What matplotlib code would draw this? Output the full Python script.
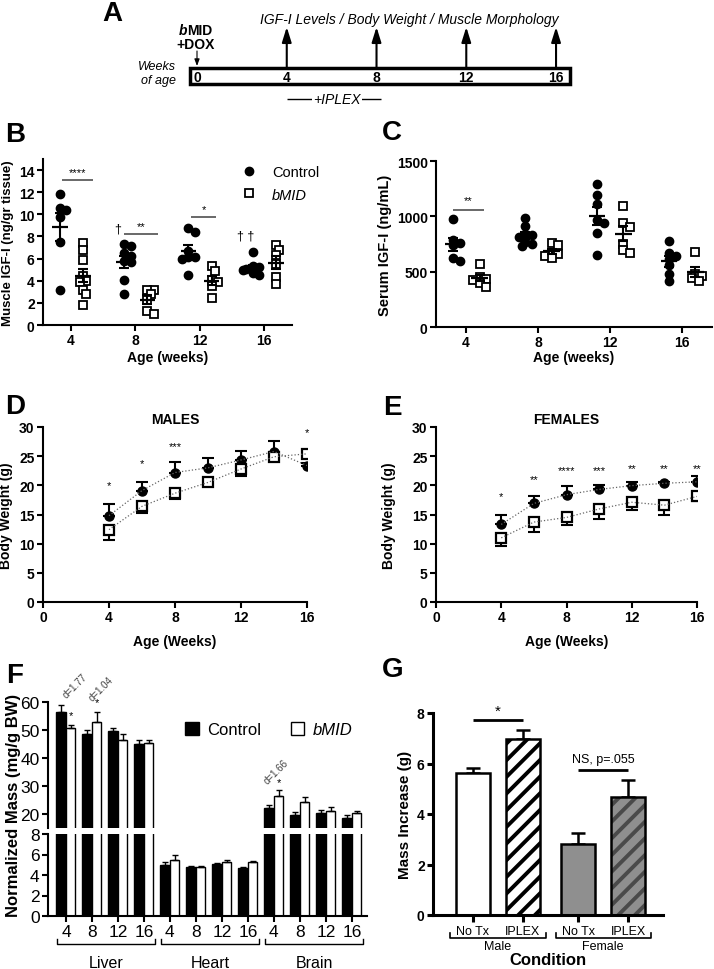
import numpy as np
import matplotlib
matplotlib.use("Agg")
import matplotlib.pyplot as plt
import matplotlib.transforms as mtransforms
from matplotlib.patches import Rectangle, Patch
from matplotlib.lines import Line2D

W, H = 714, 970

# ---------------- data ----------------
# A: timeline
timeline_weeks = [0, 4, 8, 12, 16]

# B: muscle IGF-I (ng/gr tissue), individual animals
ages = [4, 8, 12, 16]
b_ctrl = [[11.8, 10.6, 10.4, 9.8, 7.5, 3.2],
          [7.3, 7.1, 6.5, 6.2, 5.8, 5.7, 4.1, 2.8],
          [8.75, 8.4, 6.7, 6.1, 6.1, 6.0, 4.5],
          [6.6, 5.3, 5.2, 5.1, 5.0, 4.7, 4.5]]
b_bmid = [[7.4, 6.8, 5.9, 4.4, 4.0, 3.9, 3.2, 2.8, 1.8],
          [3.2, 3.2, 2.8, 2.3, 1.3, 1.0],
          [5.3, 4.9, 4.1, 3.9, 3.5, 2.4],
          [7.2, 6.8, 6.3, 5.5, 4.3, 3.7]]

# C: serum IGF-I (ng/mL)
c_ctrl = [[980, 790, 760, 740, 620, 595],
          [985, 910, 840, 830, 810, 770, 750, 730],
          [1290, 1190, 1110, 970, 940, 845, 655],
          [775, 670, 640, 610, 560, 475, 415]]
c_bmid = [[565, 450, 435, 425, 400, 365],
          [762, 741, 672, 660, 642, 621],
          [1095, 940, 905, 750, 700, 665],
          [680, 480, 465, 440, 415]]

# D / E: body weight (g)
weeks = [4, 6, 8, 10, 12, 14, 16]
d_ctrl = [14.8, 19.1, 22.2, 23.0, 24.35, 25.8, 23.4]
d_ctrl_sem = [1.95, 1.4, 1.85, 1.6, 1.6, 1.8, 0.5]
d_bmid = [12.4, 16.4, 18.65, 20.5, 22.8, 24.9, 25.4]
d_bmid_sem = [1.8, 1.15, 1.0, 0.4, 1.15, 0.5, 0.5]
d_sig = ['*', '*', '***', '', '', '', '*']
d_sig_y = [20.1, 23.8, 26.8, 0, 0, 0, 29.2]

e_ctrl = [13.3, 16.9, 18.4, 19.3, 19.95, 20.35, 20.6]
e_ctrl_sem = [1.6, 1.2, 1.55, 0.8, 0.65, 0.3, 0.95]
e_bmid = [11.0, 13.7, 14.5, 15.95, 17.1, 16.6, 18.1]
e_bmid_sem = [1.35, 1.75, 1.25, 1.65, 1.4, 1.7, 0.75]
e_sig = ['*', '**', '****', '***', '**', '**', '**']
e_sig_y = [18.2, 21.1, 22.6, 22.6, 23.0, 23.0, 23.0]

# F: normalized organ mass (mg/g BW)
organs = ['Liver', 'Heart', 'Brain']
f_ages = ['4', '8', '12', '16']
f_ctrl = [56.4, 48.6, 49.6, 45.0, 4.97, 4.74, 5.07, 4.67, 22.0, 19.6, 20.4, 18.4]
f_ctrl_sem = [2.6, 1.4, 1.1, 1.3, 0.33, 0.11, 0.08, 0.13, 1.3, 1.2, 0.9, 1.3]
f_bmid = [50.8, 53.0, 46.4, 45.3, 5.5, 4.78, 5.23, 5.23, 26.6, 24.2, 21.0, 20.2]
f_bmid_sem = [1.0, 3.3, 2.2, 1.0, 0.45, 0.07, 0.22, 0.12, 1.8, 1.8, 1.6, 0.8]

# G: mass increase (g)
g_labels = ['No Tx', 'IPLEX', 'No Tx', 'IPLEX']
g_sex = ['Male', 'Female']
g_vals = [5.64, 6.99, 2.82, 4.68]
g_sem = [0.17, 0.33, 0.43, 0.66]

# ---------------- style ----------------
plt.rcParams['font.family'] = ['Liberation Sans', 'DejaVu Sans']
plt.rcParams['hatch.linewidth'] = 2.8
plt.rcParams['axes.linewidth'] = 1.5

fig = plt.figure(figsize=(W / 100, H / 100), dpi=100)


def px_box(l, t, r, b):
    return [l / W, 1 - b / H, (r - l) / W, (b - t) / H]


def fig_text(x, y, s, **kw):
    fig.text(x / W, 1 - y / H, s, **kw)


def style_axes(ax, size=9, bold=True, width=1.5):
    for sp in ['top', 'right']:
        ax.spines[sp].set_visible(False)
    for sp in ['left', 'bottom']:
        ax.spines[sp].set_linewidth(width)
    ax.tick_params(direction='out', length=4, width=width, labelsize=size, pad=2)
    if bold:
        for lab in ax.get_xticklabels() + ax.get_yticklabels():
            lab.set_fontweight('bold')


def swarm(vals, center, xscale, yscale, diam=6.5):
    # simple greedy beeswarm in pixel space
    vals = np.asarray(vals, float)
    placed = []
    out = np.zeros(len(vals))
    for i in np.argsort(vals)[::-1]:
        y = vals[i] * yscale
        for k in [0, 1, -1, 2, -2, 3, -3]:
            x = k * diam * 0.5
            if all((x - px) ** 2 + (y - py) ** 2 >= (diam * 0.8) ** 2 for px, py in placed):
                break
        placed.append((x, y))
        out[i] = center + x / xscale
    return out


def dot_panel(ax, ctrl, bmid, xscale, yscale, half):
    for i, age in enumerate(ages):
        for vals, off, kind in [(ctrl[i], -0.7, 'c'), (bmid[i], 0.75, 'b')]:
            xc = age + off
            xs = swarm(vals, xc, xscale, yscale)
            if kind == 'c':
                ax.plot(xs, vals, 'o', color='k', ms=6, ls='none', zorder=3, clip_on=False)
            else:
                ax.plot(xs, vals, 's', mfc='white', mec='k', mew=1.3, ms=5.5,
                        ls='none', zorder=3, clip_on=False)
            m = np.mean(vals)
            s = np.std(vals, ddof=1) / np.sqrt(len(vals))
            ax.hlines(m, xc - half, xc + half, color='k', lw=1.6, zorder=4)
            ax.errorbar(xc, m, yerr=s, fmt='none', ecolor='k', elinewidth=1.5,
                        capsize=3.5, capthick=1.5, zorder=4)
    ax.set_xticks(ages)


# ---------------- A ----------------
ax_a = fig.add_axes(px_box(0, 0, 714, 110))
ax_a.set_xlim((0 - 197) / 22.44, (714 - 197) / 22.44)
ax_a.set_ylim(110, 0)
ax_a.axis('off')
ax_a.add_patch(Rectangle((-0.31, 69), 16.93, 16, fill=False, lw=2.5, color='k'))
for w in timeline_weeks:
    ax_a.text(w, 78, str(w), ha='center', va='center', fontsize=10, fontweight='bold')
for w in timeline_weeks[1:]:
    ax_a.annotate('', xy=(w, 28), xytext=(w, 68),
                  arrowprops=dict(arrowstyle='-|>,head_length=0.9,head_width=0.28',
                                  color='k', lw=1.5, shrinkA=0, shrinkB=0))
ax_a.annotate('', xy=(0, 67), xytext=(0, 52),
              arrowprops=dict(arrowstyle='-|>,head_length=0.4,head_width=0.15',
                              color='k', lw=0.8, shrinkA=0, shrinkB=0))
ax_a.text(-0.42, 31, 'b', ha='right', va='center', fontsize=10, fontweight='bold', style='italic')
ax_a.text(-0.42, 31, 'MID', ha='left', va='center', fontsize=10, fontweight='bold')
ax_a.text(-0.05, 45, '+DOX', ha='center', va='center', fontsize=10, fontweight='bold')
ax_a.text(9.45, 20, 'IGF-I Levels / Body Weight / Muscle Morphology', ha='center',
          va='center', fontsize=10, style='italic')
ax_a.text(-0.95, 67, 'Weeks', ha='right', va='center', fontsize=9, style='italic')
ax_a.text(-0.95, 81, 'of age', ha='right', va='center', fontsize=9, style='italic')
ax_a.hlines(100, 4, 8.2, color='k', lw=1)
ax_a.text(6.25, 100, '+IPLEX', ha='center', va='center', fontsize=10, style='italic',
          bbox=dict(facecolor='white', edgecolor='none', pad=1))
fig_text(112, 14, 'A', fontsize=20, fontweight='bold', ha='center', va='center')

# ---------------- B ----------------
ax_b = fig.add_axes(px_box(43, 160, 292, 326))
ax_b.set_xlim(2.25, 17.75)
ax_b.set_ylim(0, 15)
dot_panel(ax_b, b_ctrl, b_bmid, 249 / 15.5, 166 / 15, 0.48)
ax_b.set_yticks(range(0, 15, 2))
style_axes(ax_b, 10)
ax_b.set_ylabel('Muscle IGF-I (ng/gr tissue)', fontsize=9.5, fontweight='bold')
ax_b.yaxis.set_label_coords(-0.115, 0.5)
ax_b.set_xlabel('Age (weeks)', fontsize=10, fontweight='bold')
ax_b.xaxis.set_label_coords(0.5, -0.15)
for x0, x1, y, s in [(3.44, 5.37, 13.1, '****'), (7.3, 9.41, 8.2, '**'), (11.47, 13.02, 9.8, '*')]:
    ax_b.hlines(y, x0, x1, color='0.25', lw=1.1)
    ax_b.text((x0 + x1) / 2, y + 0.25, s, ha='center', va='bottom', fontsize=8)
ax_b.text(6.92, 8.7, '\u2020', ha='center', va='center', fontsize=9)
ax_b.text(14.88, 8.1, '\u2020 \u2020', ha='center', va='center', fontsize=9)
hb = [Line2D([], [], marker='o', color='k', ls='none', ms=6),
      Line2D([], [], marker='s', mfc='white', mec='k', mew=1.3, ls='none', ms=5.5)]
leg = ax_b.legend(hb, ['Control', 'bMID'], loc='upper left', bbox_to_anchor=(0.745, 1.0),
                  frameon=False, fontsize=10.5, handletextpad=0.6, labelspacing=0.6,
                  borderaxespad=0)
leg.get_texts()[1].set_style('italic')
fig_text(15, 135, 'B', fontsize=20, fontweight='bold', ha='center', va='center')

# ---------------- C ----------------
ax_c = fig.add_axes(px_box(436, 162, 712, 328))
ax_c.set_xlim(2.33, 17.67)
ax_c.set_ylim(0, 1500)
dot_panel(ax_c, c_ctrl, c_bmid, 276 / 15.34, 166 / 1500, 0.45)
ax_c.set_yticks([0, 500, 1000, 1500])
style_axes(ax_c, 10)
ax_c.set_ylabel('Serum IGF-I (ng/mL)', fontsize=10.5, fontweight='bold')
ax_c.yaxis.set_label_coords(-0.16, 0.5)
ax_c.set_xlabel('Age (weeks)', fontsize=10, fontweight='bold')
ax_c.xaxis.set_label_coords(0.5, -0.14)
ax_c.hlines(1053, 3.28, 5.0, color='0.25', lw=1.1)
ax_c.text(4.14, 1100, '**', ha='center', va='bottom', fontsize=8)
fig_text(392, 133, 'C', fontsize=20, fontweight='bold', ha='center', va='center')


# ---------------- D / E ----------------
def growth(ax, ctrl, ctrl_sem, bmid, bmid_sem, sig, sig_y, title):
    n = len(weeks)
    ax.errorbar(weeks, ctrl, yerr=[np.zeros(n), ctrl_sem], fmt='none', ecolor='k',
                elinewidth=1.5, capsize=4, capthick=1.5, zorder=2)
    ax.errorbar(weeks, bmid, yerr=[bmid_sem, np.zeros(n)], fmt='none', ecolor='k',
                elinewidth=1.5, capsize=4, capthick=1.5, zorder=2)
    ax.plot(weeks, ctrl, 'o', color='k', ms=6.5, zorder=3)
    ax.plot(weeks, bmid, 's', mfc='white', mec='k', mew=1.6, ms=7.5, zorder=4)
    ax.plot(weeks, ctrl, ls=':', color='0.4', lw=0.9, zorder=5)
    ax.plot(weeks, bmid, ls=':', color='0.4', lw=0.9, zorder=5)
    for w, s, y in zip(weeks, sig, sig_y):
        if s:
            ax.text(w, y, s, ha='center', va='center', fontsize=8)
    ax.set_xlim(0, 16)
    ax.set_ylim(0, 30)
    ax.set_xticks([0, 4, 8, 12, 16])
    ax.set_yticks(range(0, 31, 5))
    style_axes(ax, 10)
    ax.set_ylabel('Body Weight (g)', fontsize=10, fontweight='bold')
    ax.set_xlabel('Age (Weeks)', fontsize=10, fontweight='bold')
    ax.xaxis.set_label_coords(0.5, -0.185)
    ax.set_title(title, fontsize=10, fontweight='bold', pad=3)


ax_d = fig.add_axes(px_box(43, 428, 307, 603))
growth(ax_d, d_ctrl, d_ctrl_sem, d_bmid, d_bmid_sem, d_sig, d_sig_y, 'MALES')
ax_d.yaxis.set_label_coords(-0.112, 0.5)
fig_text(15, 407, 'D', fontsize=20, fontweight='bold', ha='center', va='center')

ax_e = fig.add_axes(px_box(436, 428, 697, 603))
growth(ax_e, e_ctrl, e_ctrl_sem, e_bmid, e_bmid_sem, e_sig, e_sig_y, 'FEMALES')
ax_e.yaxis.set_label_coords(-0.153, 0.5)
fig_text(392, 408, 'E', fontsize=20, fontweight='bold', ha='center', va='center')

# ---------------- F ----------------
ax_ft = fig.add_axes(px_box(48, 703, 367, 829))
ax_fb = fig.add_axes(px_box(48, 835, 367, 917))
pos = np.arange(len(f_ctrl))
nz = np.zeros(len(pos))
for ax in (ax_ft, ax_fb):
    ax.bar(pos - 0.185, f_ctrl, 0.36, color='k', edgecolor='k', lw=1)
    ax.bar(pos + 0.185, f_bmid, 0.36, color='white', edgecolor='k', lw=1)
    ax.errorbar(pos - 0.185, f_ctrl, yerr=[nz, f_ctrl_sem], fmt='none', ecolor='k',
                elinewidth=1, capsize=2.5, capthick=1)
    ax.errorbar(pos + 0.185, f_bmid, yerr=[nz, f_bmid_sem], fmt='none', ecolor='k',
                elinewidth=1, capsize=2.5, capthick=1)
    ax.set_xlim(-0.69, 11.58)
ax_ft.set_ylim(15, 60)
ax_ft.set_yticks([20, 30, 40, 50, 60])
ax_fb.set_ylim(0, 8)
ax_fb.set_yticks([0, 2, 4, 6, 8])
style_axes(ax_ft, 12.5, bold=False)
style_axes(ax_fb, 12.5, bold=False)
ax_ft.spines['bottom'].set_visible(False)
ax_ft.set_xticks([])
ax_fb.set_xticks(pos)
ax_fb.set_xticklabels(f_ages * len(organs))
trans = mtransforms.blended_transform_factory(ax_fb.transData, ax_fb.transAxes)
for g, organ in enumerate(organs):
    x0 = 4 * g - 0.36
    x1 = 4 * g + 3 + 0.44
    ax_fb.plot([x0, x0, x1, x1], [-0.28, -0.34, -0.34, -0.28], color='k', lw=1,
               transform=trans, clip_on=False)
    ax_fb.text((x0 + x1) / 2, -0.57, organ, ha='center', va='center', fontsize=11.5,
               transform=trans)
for i, d, ystar, ytxt, dx in [(0, 'd=1.77', 55.4, 61.0, 0.08), (1, 'd=1.04', 59.8, 59.8, 0.08),
                              (8, 'd=1.66', 31.4, 30.3, -0.2)]:
    ax_ft.text(i + 0.185, ystar, '*', ha='center', va='center', fontsize=8)
    ax_ft.text(i + dx, ytxt, d, ha='left', va='bottom', fontsize=7, rotation=45,
               rotation_mode='anchor', color='0.25')
hf = [Patch(facecolor='k', edgecolor='k'), Patch(facecolor='white', edgecolor='k')]
leg = ax_ft.legend(hf, ['Control', 'bMID'], loc='center left', bbox_to_anchor=(0.41, 0.78),
                   ncol=2, frameon=False, fontsize=12, handlelength=0.8, handleheight=0.8,
                   handletextpad=0.5, columnspacing=1.8, borderaxespad=0)
leg.get_texts()[1].set_style('italic')
fig_text(14, 805, 'Normalized Mass (mg/g BW)', rotation=90, fontsize=12, fontweight='bold',
         ha='center', va='center')
fig_text(15, 676, 'F', fontsize=20, fontweight='bold', ha='center', va='center')

# ---------------- G ----------------
ax_g = fig.add_axes(px_box(433, 714, 663, 916))
g_pos = [0, 1, 2.1, 3.1]
fills = ['white', 'white', '#8f8f8f', '#8f8f8f']
hatch_cols = ['k', 'k', '#8f8f8f', '#4a4a4a']
hatches = [None, '//', None, '//']
for x, v, f, hc, hh in zip(g_pos, g_vals, fills, hatch_cols, hatches):
    ax_g.bar(x, v, 0.68, color=f, edgecolor=hc, hatch=hh, lw=0, zorder=2)
    ax_g.bar(x, v, 0.68, fill=False, edgecolor='k', lw=1.8, zorder=3)
ax_g.errorbar(g_pos, g_vals, yerr=[np.zeros(4), g_sem], fmt='none', ecolor='k',
              elinewidth=1.8, capsize=5, capthick=1.8, zorder=1)
ax_g.set_xlim(-0.8, 3.8)
ax_g.set_ylim(0, 8)
ax_g.set_yticks([0, 2, 4, 6, 8])
ax_g.set_xticks(g_pos)
ax_g.set_xticklabels(g_labels)
style_axes(ax_g, 10, bold=False, width=2.2)
ax_g.tick_params(axis='x', labelsize=9, length=5, pad=2)
for lab in ax_g.get_yticklabels():
    lab.set_fontweight('bold')
ax_g.hlines(7.72, g_pos[0], g_pos[1], color='k', lw=2)
ax_g.text((g_pos[0] + g_pos[1]) / 2, 7.8, '*', ha='center', va='bottom', fontsize=11)
ax_g.hlines(5.73, g_pos[2], g_pos[3], color='k', lw=2)
ax_g.text((g_pos[2] + g_pos[3]) / 2, 5.95, 'NS, p=.055', ha='center', va='bottom', fontsize=9)
tg = mtransforms.blended_transform_factory(ax_g.transData, ax_g.transAxes)
for k, sex in enumerate(g_sex):
    x0 = g_pos[2 * k] - 0.45
    x1 = g_pos[2 * k + 1] + 0.45
    ax_g.plot([x0, x0, x1, x1], [-0.088, -0.115, -0.115, -0.088], color='k', lw=1.2,
              transform=tg, clip_on=False)
    ax_g.text((x0 + x1) / 2, -0.155, sex, ha='center', va='center', fontsize=9, transform=tg)
ax_g.set_ylabel('Mass Increase (g)', fontsize=11, fontweight='bold')
ax_g.yaxis.set_label_coords(-0.09, 0.5)
ax_g.set_xlabel('Condition', fontsize=12, fontweight='bold')
ax_g.xaxis.set_label_coords(0.5, -0.182)
fig_text(393, 670, 'G', fontsize=20, fontweight='bold', ha='center', va='center')

fig.savefig('out.png', dpi=100)
